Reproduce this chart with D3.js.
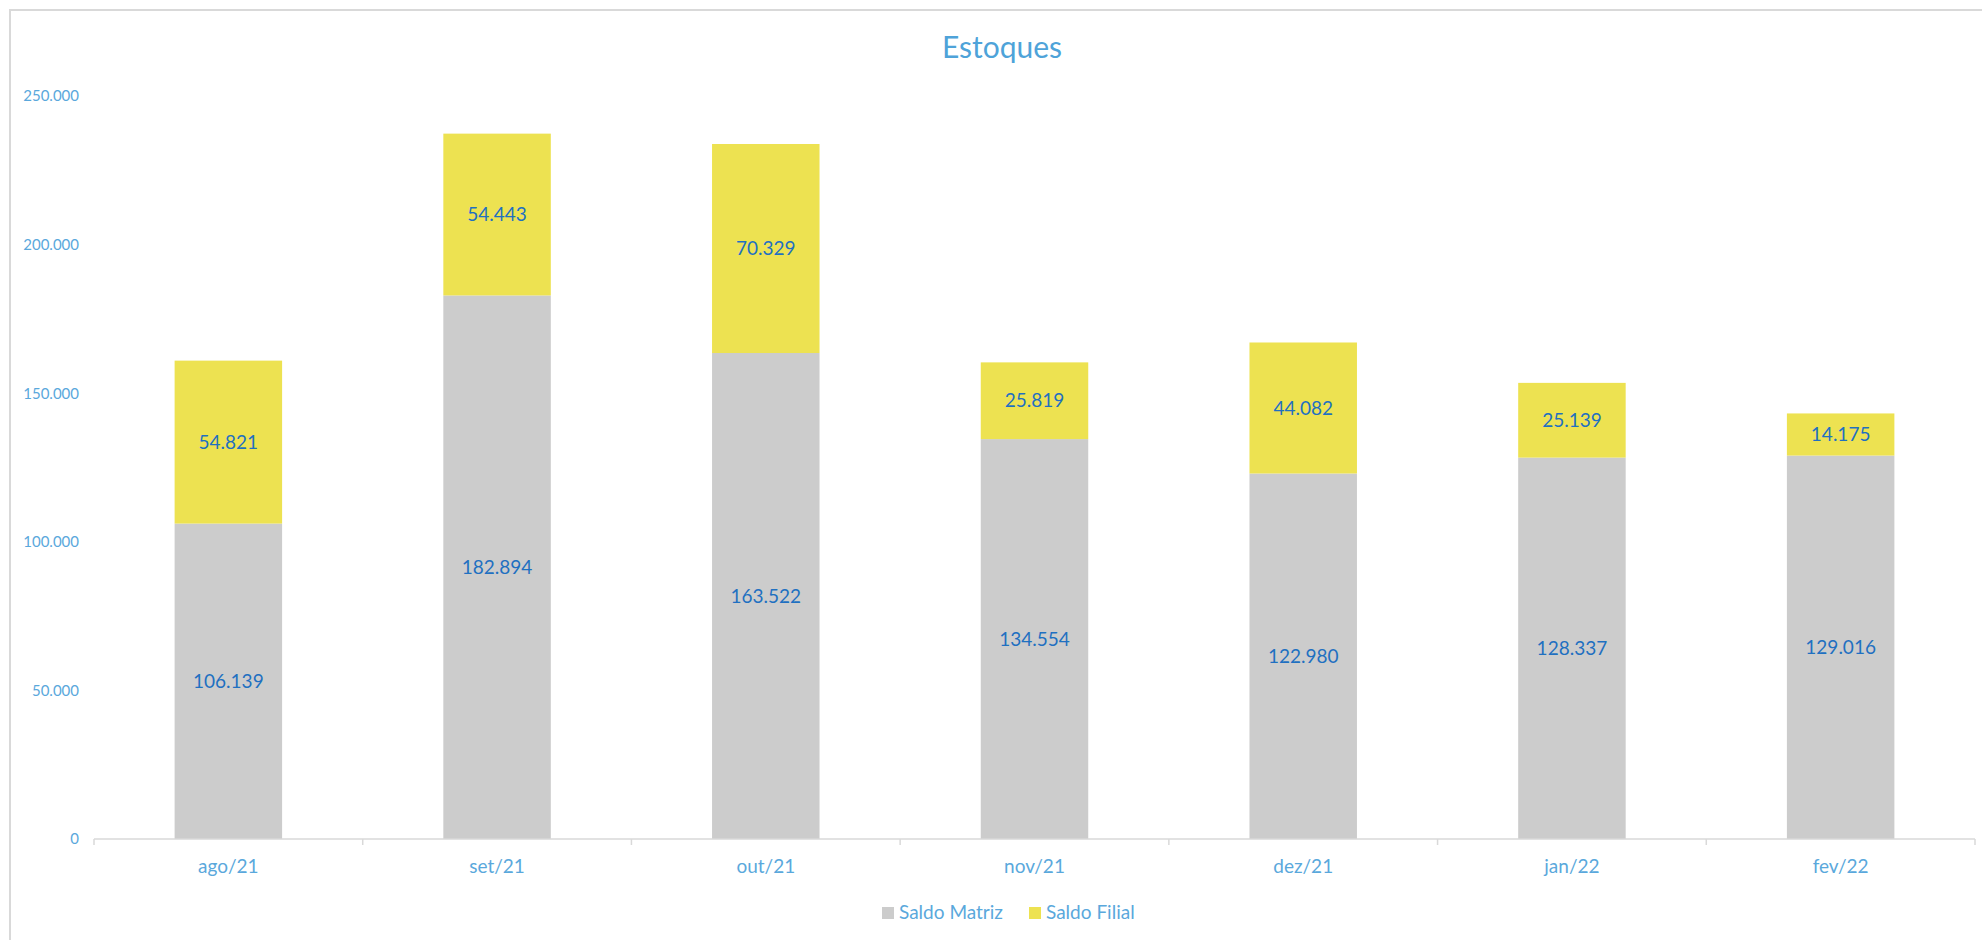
<!DOCTYPE html>
<html>
<head>
<meta charset="utf-8">
<script src="https://cdn.jsdelivr.net/npm/d3@7"></script>
<style>
  html, body { margin: 0; padding: 0; background: #fff; }
  svg { display: block; font-family: Lato, "Open Sans", sans-serif; }
</style>
</head>
<body>
<div id="chart"></div>
<script>
// data
var months = ["ago/21", "set/21", "out/21", "nov/21", "dez/21", "jan/22", "fev/22"];
var saldoMatriz = [106139, 182894, 163522, 134554, 122980, 128337, 129016];
var saldoFilial = [54821, 54443, 70329, 25819, 44082, 25139, 14175];
var yTicks = [0, 50000, 100000, 150000, 200000, 250000];
var seriesNames = ["Saldo Matriz", "Saldo Filial"];

var width = 1982, height = 940;
var grayColor = "#cccccc",
    yellowColor = "#ede251",
    labelColor = "#1f70c1",
    axisText = "#5aa8dc",
    axisLine = "#d9d9d9";

var svg = d3.select("#chart").append("svg")
  .attr("width", width)
  .attr("height", height);

// frame (only top and left edges are visible in the picture)
svg.append("path")
  .attr("d", "M10," + height + "V10H" + width)
  .attr("fill", "none")
  .attr("stroke", "#d9d9d9")
  .attr("stroke-width", 2);

var x = d3.scaleBand().domain(months).range([94, 1975]);
var y = d3.scaleLinear().domain([0, 250000]).range([839, 96]);

var fmt = function(v) {
  return d3.format(",")(v).replace(/,/g, ".");
};

// title
svg.append("text")
  .attr("x", 1002).attr("y", 58)
  .attr("text-anchor", "middle")
  .attr("fill", "#4ea3d9")
  .style("font-size", "30px")
  .text("Estoques");

// stack
var rows = months.map(function(m, i) {
  return { month: m, matriz: saldoMatriz[i], filial: saldoFilial[i] };
});
var stack = d3.stack().keys(["matriz", "filial"])(rows);
var colors = [grayColor, yellowColor];
var barW = x.bandwidth() * 0.4;

var layers = svg.selectAll(".layer")
  .data(stack)
  .enter().append("g")
  .attr("class", "layer")
  .attr("fill", function(d, i) { return colors[i]; });

layers.selectAll("rect")
  .data(function(d) { return d; })
  .enter().append("rect")
  .attr("x", function(d) { return x(d.data.month) + (x.bandwidth() - barW) / 2; })
  .attr("width", barW)
  .attr("y", function(d) { return y(d[1]); })
  .attr("height", function(d) { return y(d[0]) - y(d[1]); });

layers.selectAll("text")
  .data(function(d) { return d; })
  .enter().append("text")
  .attr("x", function(d) { return x(d.data.month) + x.bandwidth() / 2; })
  .attr("y", function(d) { return (y(d[0]) + y(d[1])) / 2; })
  .attr("dy", "0.35em")
  .attr("text-anchor", "middle")
  .attr("fill", labelColor)
  .style("font-size", "19px")
  .text(function(d) { return fmt(d[1] - d[0]); });

// y axis labels (no line)
var yAxis = svg.append("g")
  .attr("transform", "translate(79,0)")
  .call(d3.axisLeft(y).tickValues(yTicks).tickSize(0).tickPadding(0).tickFormat(fmt));
yAxis.select(".domain").remove();
yAxis.selectAll("text")
  .attr("fill", axisText)
  .style("font-size", "15px")
  .style("font-family", "Lato, 'Open Sans', sans-serif");

// x axis with ticks on band boundaries
var xAxis = svg.append("g")
  .attr("transform", "translate(0,839)");
xAxis.append("line")
  .attr("x1", x.range()[0]).attr("x2", x.range()[1])
  .attr("stroke", axisLine).attr("stroke-width", 1.5);
var bounds = months.map(function(m) { return x(m); }).concat([x.range()[1]]);
xAxis.selectAll(".tick")
  .data(bounds)
  .enter().append("line")
  .attr("x1", function(d) { return d; }).attr("x2", function(d) { return d; })
  .attr("y1", 0).attr("y2", 6)
  .attr("stroke", axisLine).attr("stroke-width", 1.5);
xAxis.selectAll("text")
  .data(months)
  .enter().append("text")
  .attr("x", function(d) { return x(d) + x.bandwidth() / 2; })
  .attr("y", 34)
  .attr("text-anchor", "middle")
  .attr("fill", axisText)
  .style("font-size", "19px")
  .text(function(d) { return d; });

// legend
var legend = svg.append("g");
var legendX = [882, 1029];
seriesNames.forEach(function(name, i) {
  legend.append("rect")
    .attr("x", legendX[i]).attr("y", 907)
    .attr("width", 12).attr("height", 12)
    .attr("fill", colors[i]);
  legend.append("text")
    .attr("x", legendX[i] + 17).attr("y", 919)
    .attr("fill", axisText)
    .style("font-size", "19px")
    .text(name);
});
</script>
</body>
</html>
